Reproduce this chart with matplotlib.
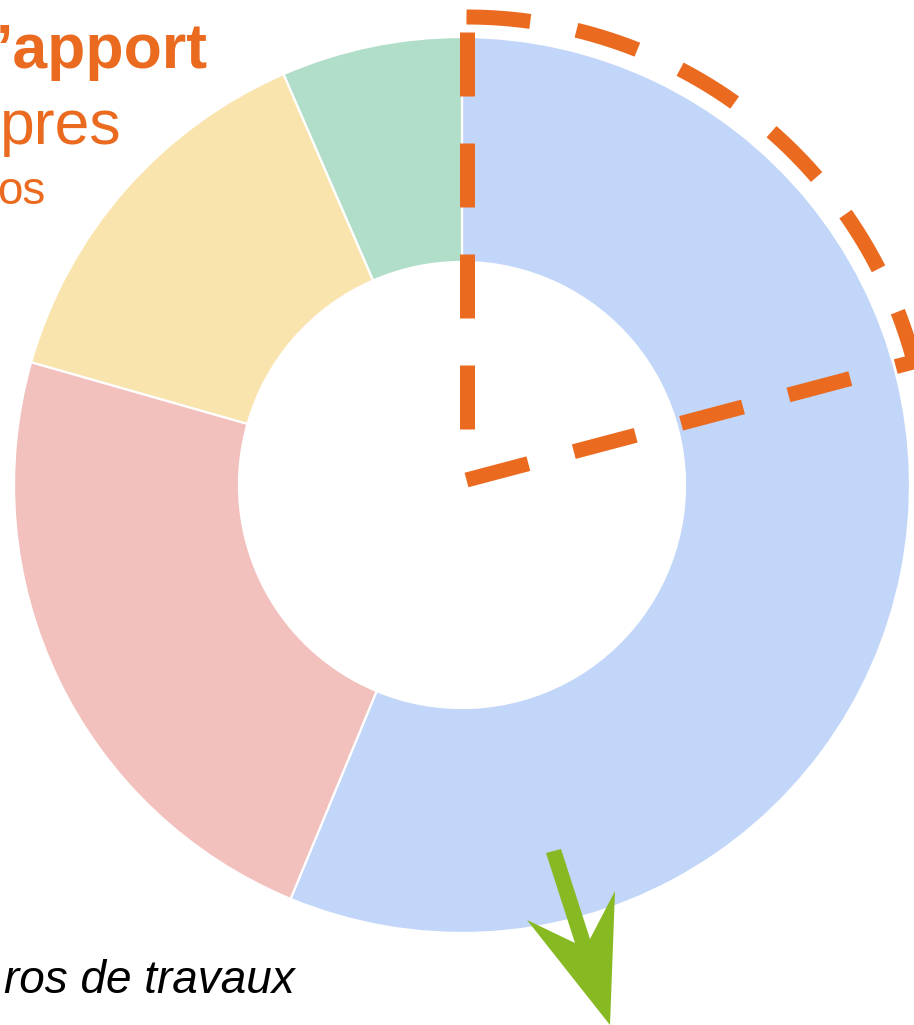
import numpy as np
import matplotlib
matplotlib.use("Agg")
import matplotlib.pyplot as plt
from matplotlib.patches import Polygon

# ---- data ----
categories = ["Bleu", "Rouge", "Jaune", "Vert"]
shares = [56.25, 23.17, 14.06, 6.52]
colors = ["#C1D6F8", "#F2C1BD", "#F9E4AE", "#B1DEC8"]

title_bold = "\u2019apport"
title_line2 = "pres"
title_line3 = "os"
bottom_text = "ros de travaux"

ORANGE = "#EA6A1F"
GREEN = "#87B923"

plt.rcParams["lines.scale_dashes"] = False
plt.rcParams["font.family"] = ["Liberation Sans", "DejaVu Sans"]

W, H = 914, 1025
fig = plt.figure(figsize=(W / 100, H / 100), dpi=100)
ax = fig.add_axes([0, 0, 1, 1])

def Y(y_img):
    return H - y_img

# donut
ax.pie(shares, colors=colors, startangle=90, counterclock=False,
       center=(462, Y(485)), radius=448,
       wedgeprops=dict(width=225, edgecolor="white", linewidth=1.6))

ax.set_xlim(0, W)
ax.set_ylim(0, H)
ax.set_aspect("equal")
ax.axis("off")

# dashed sector outline
px = 0.72
lw = 15 * px
dash = (64 * px, 47 * px)
cx, cy = 466.5, Y(480)
R = 463
a_end = np.deg2rad(14.8)
# radial line
ax.plot([cx, cx + R * np.cos(a_end)], [cy, cy + R * np.sin(a_end)],
        color=ORANGE, lw=lw, linestyle=(0, dash), dash_capstyle="butt")
# arc from top clockwise
th = np.linspace(np.pi / 2, a_end, 200)
ax.plot(cx + R * np.cos(th), cy + R * np.sin(th),
        color=ORANGE, lw=lw, linestyle=(0, dash), dash_capstyle="butt")
# vertical line from top down (stops where last dash ends)
ax.plot([cx, cx], [cy + R, Y(433)], color=ORANGE, lw=lw,
        linestyle=(96 * px, dash), dash_capstyle="butt")

# green arrow
arrow_img = [(546, 853), (561, 849), (590, 939), (615, 891), (610, 1025),
             (527, 920), (575, 943)]
ax.add_patch(Polygon([(x, Y(y)) for x, y in arrow_img], closed=True,
                     facecolor=GREEN, edgecolor="none"))

# texts
ax.text(208, Y(68), title_bold, color=ORANGE, fontsize=45, fontweight="bold",
        ha="right", va="baseline")
ax.text(122, Y(144), title_line2, color=ORANGE, fontsize=45,
        ha="right", va="baseline")
ax.text(45, Y(204), title_line3, color=ORANGE, fontsize=33,
        ha="right", va="baseline")
ax.text(295, Y(993), bottom_text, color="black", fontsize=33, style="italic",
        ha="right", va="baseline")

fig.savefig("out.png", dpi=100, facecolor="white")
